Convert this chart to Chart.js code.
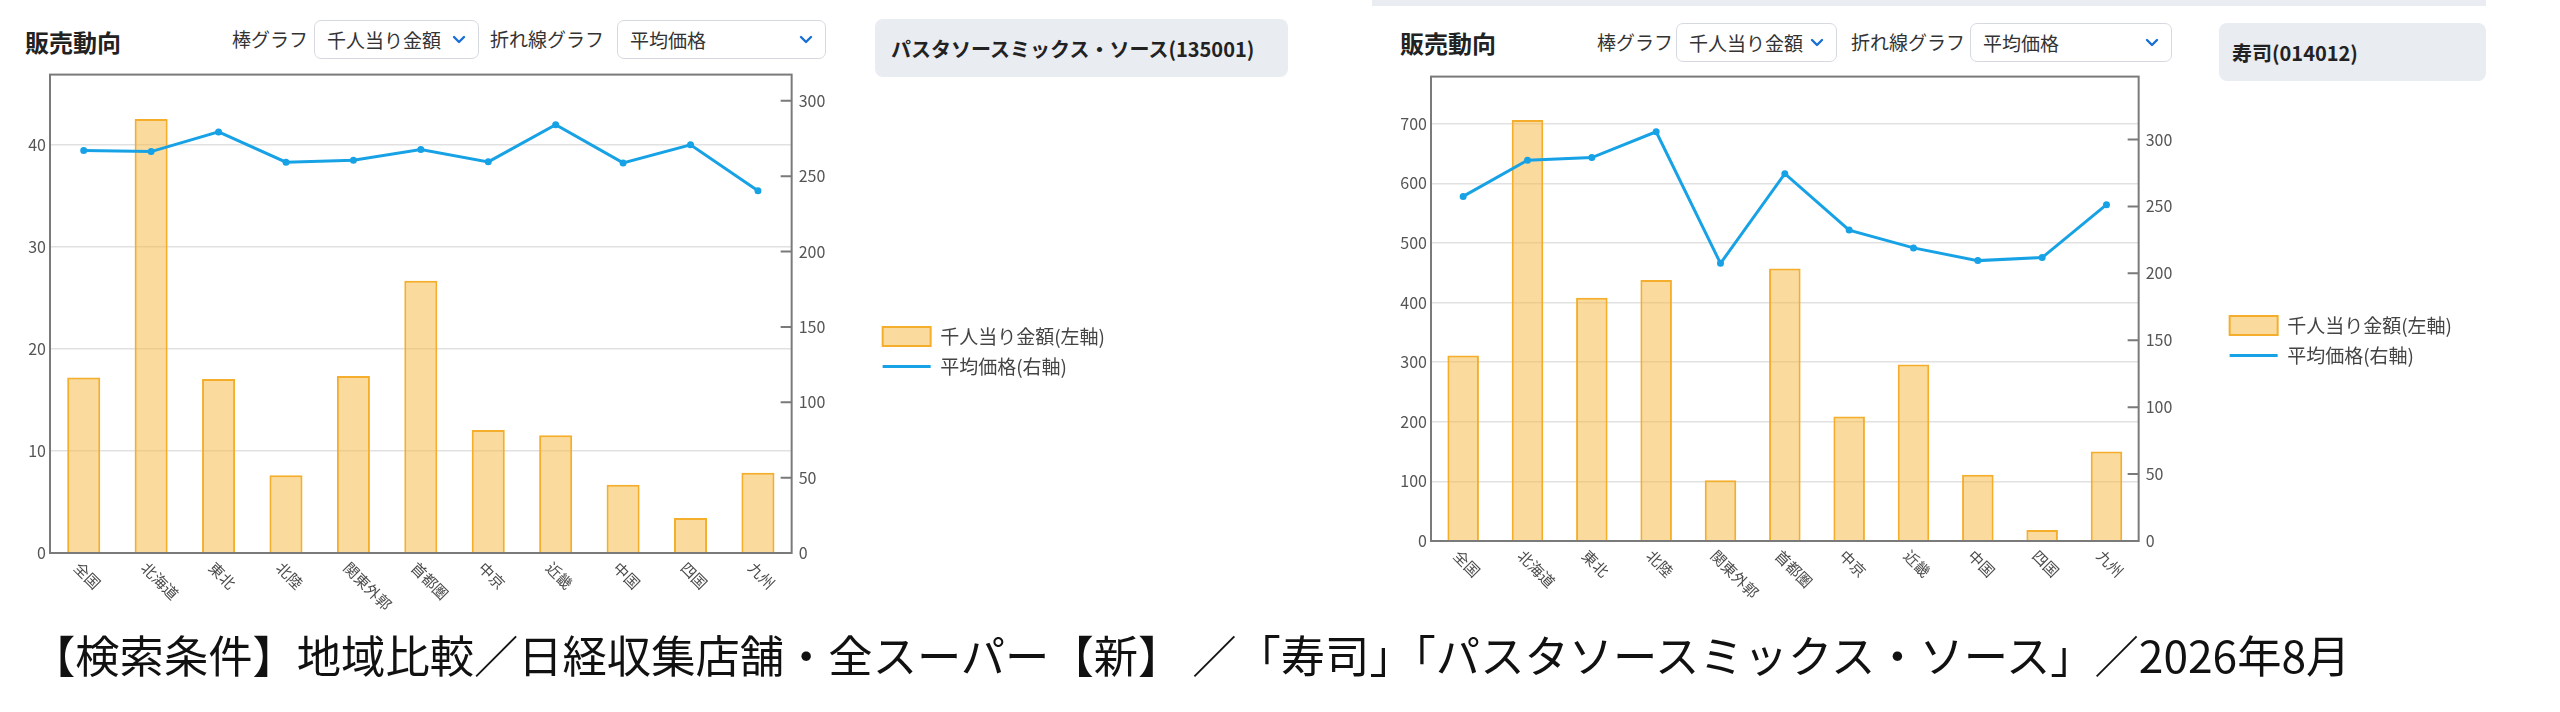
<!DOCTYPE html>
<html lang="ja">
<head>
<meta charset="utf-8">
<script src="https://cdn.jsdelivr.net/npm/chart.js@4.4.1/dist/chart.umd.min.js"></script>
<style>
html,body{margin:0;padding:0;background:#fff;}
body{width:2560px;height:712px;position:relative;overflow:hidden;font-family:"Noto Sans CJK JP","Noto Sans",sans-serif;color:#333;}
.abs{position:absolute;white-space:nowrap;}
.title{font-weight:bold;font-size:24px;line-height:30px;color:#222;}
.lab{font-size:19px;line-height:24px;color:#333;}
.sel{box-sizing:border-box;height:39px;border:1px solid #d6dae0;border-radius:7px;background:#fff;font-size:19px;line-height:37px;padding-left:12px;color:#333;}
.sel svg{position:absolute;right:12px;top:14px;}
.panel{box-sizing:border-box;background:#e9ecf0;border-radius:8px;height:58px;font-weight:bold;font-size:20px;line-height:58px;color:#222;}
.cap{font-size:44.3px;line-height:50px;color:#111;}
canvas{position:absolute;}
</style>
</head>
<body>
<!-- left block header -->
<div class="abs title" style="left:25px;top:27px;">販売動向</div>
<div class="abs lab" style="left:232px;top:27px;">棒グラフ</div>
<div class="abs sel" style="left:314px;top:20px;width:165px;">千人当り金額<svg width="14" height="9" viewBox="0 0 14 9"><polyline points="2,2 7,7 12,2" fill="none" stroke="#1a6fd6" stroke-width="2.4" stroke-linecap="round" stroke-linejoin="round"/></svg></div>
<div class="abs lab" style="left:490px;top:27px;">折れ線グラフ</div>
<div class="abs sel" style="left:617px;top:20px;width:209px;">平均価格<svg width="14" height="9" viewBox="0 0 14 9"><polyline points="2,2 7,7 12,2" fill="none" stroke="#1a6fd6" stroke-width="2.4" stroke-linecap="round" stroke-linejoin="round"/></svg></div>
<div class="abs panel" style="left:875px;top:19px;width:413px;padding-left:16px;padding-top:2px;line-height:56px;">パスタソースミックス・ソース(135001)</div>

<!-- right block header -->
<div class="abs" style="left:1372px;top:0;width:1114px;height:6px;background:#e9ecf0;"></div>
<div class="abs title" style="left:1400px;top:28px;">販売動向</div>
<div class="abs lab" style="left:1597px;top:30px;">棒グラフ</div>
<div class="abs sel" style="left:1676px;top:23px;width:161px;">千人当り金額<svg width="14" height="9" viewBox="0 0 14 9"><polyline points="2,2 7,7 12,2" fill="none" stroke="#1a6fd6" stroke-width="2.4" stroke-linecap="round" stroke-linejoin="round"/></svg></div>
<div class="abs lab" style="left:1851px;top:30px;">折れ線グラフ</div>
<div class="abs sel" style="left:1970px;top:23px;width:202px;">平均価格<svg width="14" height="9" viewBox="0 0 14 9"><polyline points="2,2 7,7 12,2" fill="none" stroke="#1a6fd6" stroke-width="2.4" stroke-linecap="round" stroke-linejoin="round"/></svg></div>
<div class="abs panel" style="left:2219px;top:23px;width:267px;padding-left:13px;padding-top:2px;line-height:56px;">寿司(014012)</div>

<canvas id="pasta" width="1150" height="620"></canvas>
<canvas id="sushi" width="1100" height="600"></canvas>

<div class="abs cap" style="left:31px;top:629px;">【検索条件】地域比較／日経収集店舗・全スーパー【新】 ／「寿司」「パスタソースミックス・ソース」／2026年8月</div>

<script>
// ---- data ----
const categories = ['全国','北海道','東北','北陸','関東外郭','首都圏','中京','近畿','中国','四国','九州'];
const seriesNames = ['千人当り金額(左軸)', '平均価格(右軸)'];

const pastaAmount = [17.2, 42.55, 17.05, 7.63, 17.35, 26.7, 12.05, 11.55, 6.7, 3.44, 7.86];
const pastaPrice  = [267.0, 266.3, 279.4, 259.3, 260.6, 267.7, 259.5, 284.1, 258.8, 270.8, 240.4];

const sushiAmount = [311, 706, 408, 438, 102, 457, 209, 296, 111, 18.5, 150];
const sushiPrice  = [257.5, 284.5, 286.5, 305.8, 207.5, 274.5, 232.3, 219.0, 209.5, 211.8, 251.3];

// axis ranges
const pastaLeftMax = 46.9,  pastaLeftStep = 10;
const pastaRightMax = 317.4, pastaRightStep = 50;
const sushiLeftMax = 779,   sushiLeftStep = 100;
const sushiRightMax = 347,  sushiRightStep = 50;

// ---- style ----
const FONT = '"Noto Sans CJK JP","Noto Sans",sans-serif';
const BAR_FILL = 'rgba(245,186,68,0.52)';
const BAR_LINE = '#f4ae2c';
const LINE_COL = '#17a2e6';

const framePlugin = {
  id: 'frame',
  afterDatasetsDraw(chart) {
    const {ctx, chartArea: a} = chart;
    const y1 = chart.scales.y1;
    ctx.save();
    ctx.strokeStyle = '#7a7a7a';
    ctx.lineWidth = 2;
    ctx.strokeRect(a.left, a.top, a.right - a.left, a.bottom - a.top);
    ctx.beginPath();
    y1.ticks.forEach(t => {
      const py = y1.getPixelForValue(t.value);
      ctx.moveTo(a.right - 11, py);
      ctx.lineTo(a.right, py);
    });
    ctx.stroke();
    ctx.restore();
  }
};

const slantLabels = {
  id: 'slantLabels',
  afterDraw(chart) {
    const xs = chart.scales.x, ctx = chart.ctx, a = chart.chartArea;
    ctx.save();
    ctx.font = '15px ' + FONT;
    ctx.fillStyle = '#4a4a4a';
    ctx.textAlign = 'left';
    ctx.textBaseline = 'middle';
    chart.data.labels.forEach((lab, i) => {
      const px = xs.getPixelForValue(i);
      ctx.save();
      ctx.translate(px - 7, a.bottom + 12);
      ctx.rotate(Math.PI / 4);
      ctx.fillText(lab, 0, 0);
      ctx.restore();
    });
    ctx.restore();
  }
};

function makeChart(id, amount, price, leftMax, leftStep, rightMax, rightStep, xAxisH) {
  return new Chart(document.getElementById(id), {
    data: {
      labels: categories,
      datasets: [
        { type: 'bar', label: seriesNames[0], data: amount, yAxisID: 'y', order: 1,
          backgroundColor: BAR_FILL, borderColor: BAR_LINE, borderWidth: 2,
          barPercentage: 0.49, categoryPercentage: 1 },
        { type: 'line', label: seriesNames[1], data: price, yAxisID: 'y1', order: 0,
          borderColor: LINE_COL, backgroundColor: LINE_COL, borderWidth: 3,
          pointRadius: 2, pointHoverRadius: 2, tension: 0, fill: false }
      ]
    },
    options: {
      responsive: false,
      maintainAspectRatio: false,
      animation: false,
      events: [],
      layout: { padding: { top: 14, left: 0, right: 10, bottom: 0 } },
      scales: {
        x: { grid: { display: false }, border: { display: false }, ticks: { display: false },
             afterFit(s) { s.height = xAxisH; } },
        y: { position: 'left', min: 0, max: leftMax,
             ticks: { stepSize: leftStep, includeBounds: false, padding: 4, color: '#555', font: { family: FONT, size: 16 } },
             grid: { color: '#e1e1e1', lineWidth: 1.5, drawTicks: false },
             border: { display: false },
             afterFit(s) { s.width = 50; } },
        y1: { position: 'right', min: 0, max: rightMax,
             ticks: { stepSize: rightStep, includeBounds: false, padding: 7, color: '#555', font: { family: FONT, size: 16 } },
             grid: { drawOnChartArea: false, drawTicks: false },
             border: { display: false },
             afterFit(s) { s.width = 80; } }
      },
      plugins: {
        legend: {
          position: 'right', align: 'center', maxWidth: 400,
          labels: {
            usePointStyle: true, pointStyleWidth: 48, boxHeight: 19, padding: 11,
            color: '#444', font: { family: FONT, size: 19 },
            sort: (a, b) => a.datasetIndex - b.datasetIndex,
            generateLabels(chart) {
              const items = Chart.defaults.plugins.legend.labels.generateLabels(chart);
              items.forEach(it => {
                it.pointStyle = chart.data.datasets[it.datasetIndex].type === 'line' ? 'line' : 'rect';
              });
              return items;
            }
          }
        },
        tooltip: { enabled: false }
      }
    },
    plugins: [framePlugin, slantLabels]
  });
}

function place(chart, left, top, right, bottom) {
  let ca = chart.chartArea;
  const w = Math.round(chart.width + (right - left) - (ca.right - ca.left));
  const h = Math.round(chart.height + (bottom - top) - (ca.bottom - ca.top));
  chart.resize(w, h);
  ca = chart.chartArea;
  chart.canvas.style.left = (left - ca.left) + 'px';
  chart.canvas.style.top = (top - ca.top) + 'px';
}

const pastaChart = makeChart('pasta', pastaAmount, pastaPrice, pastaLeftMax, pastaLeftStep, pastaRightMax, pastaRightStep, 78);
const sushiChart = makeChart('sushi', sushiAmount, sushiPrice, sushiLeftMax, sushiLeftStep, sushiRightMax, sushiRightStep, 66);
place(pastaChart, 50, 75, 792, 553);
place(sushiChart, 1431, 77, 2139, 541);
</script>
</body>
</html>
